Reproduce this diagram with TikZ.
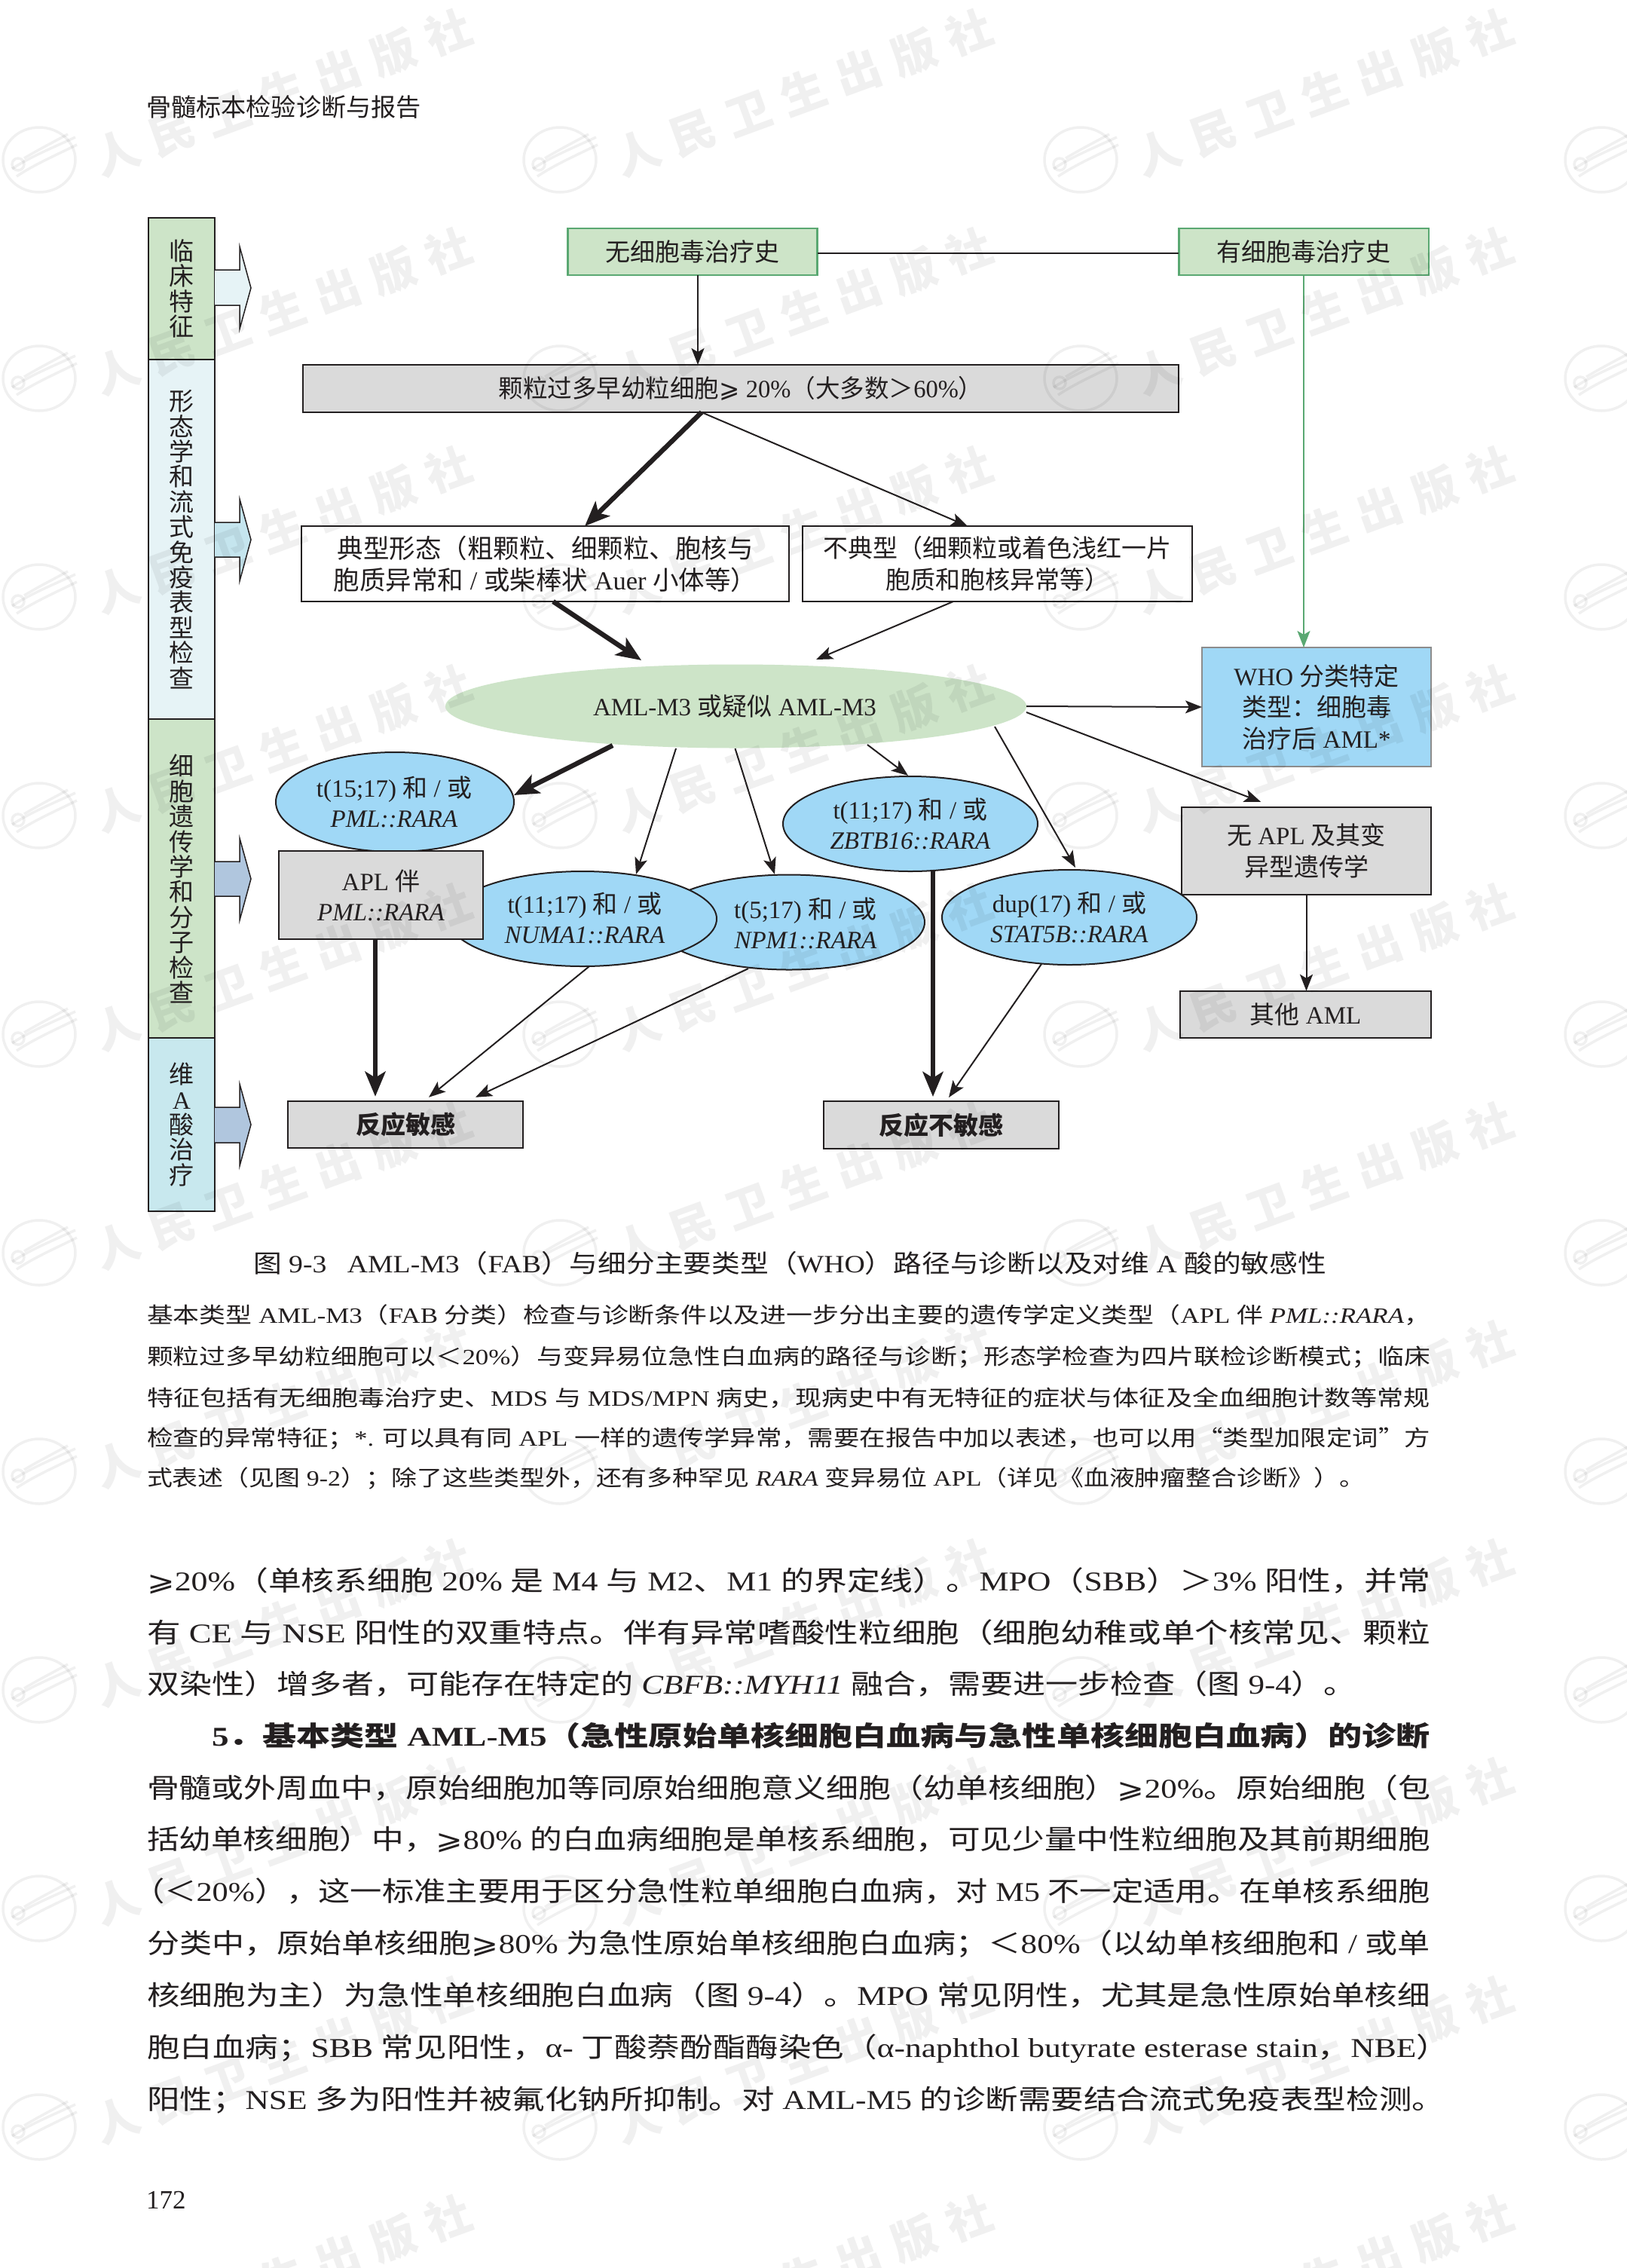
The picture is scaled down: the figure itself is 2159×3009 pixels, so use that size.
\documentclass[tikz,border=0pt]{standalone}
\usepackage{fontspec}
\usepackage{graphicx}
\usetikzlibrary{arrows.meta,shapes.geometric}
\setmainfont{Liberation Serif}
\newfontfamily\cjk{Noto Sans CJK SC}
\newfontfamily\wmfont[LetterSpace=30]{Noto Sans CJK SC}
\newfontfamily\symf{DejaVu Sans}
\newcommand\C[1]{{\cjk #1}}
\newcommand\GE{{\symf ⩾}}
\definecolor{ink}{HTML}{231F20}
\definecolor{pgreen}{HTML}{CDE4C8}
\definecolor{bgreen}{HTML}{5AA872}
\definecolor{pblue}{HTML}{A0D8F6}
\definecolor{pgrey}{HTML}{DADADA}
\definecolor{seglight}{HTML}{E6F3F6}
\definecolor{segcyan}{HTML}{C8E8EE}
\definecolor{arrA}{HTML}{E6F3F6}
\definecolor{arrB}{HTML}{C5E5EE}
\definecolor{arrC}{HTML}{B0C6DE}
\tikzset{
  x=1pt,y=-1pt,
  every node/.style={inner sep=0pt,outer sep=0pt,text=ink},
  lbl/.style={align=center,font=\fontsize{33}{40}\selectfont},
  seg/.style={draw=ink,line width=2pt,minimum width=88pt,align=center,font=\fontsize{33}{33.4}\selectfont},
  greenbox/.style={rectangle,draw=bgreen,fill=pgreen,line width=2.5pt,font=\fontsize{33}{40}\selectfont},
  greybox/.style={rectangle,draw=ink,fill=pgrey,line width=2pt,align=center,font=\fontsize{33}{42}\selectfont},
  whitebox/.style={rectangle,draw=ink,fill=white,line width=2pt,align=center,font=\fontsize{33}{42}\selectfont},
  blueell/.style={ellipse,draw=ink,fill=pblue,line width=2pt},
  thin arr/.style={draw=ink,line width=2pt,-{Stealth[length=22pt,width=17pt,inset=5pt]}},
  thick arr/.style={draw=ink,line width=6.4pt,-{Stealth[length=33pt,width=27pt,inset=8pt]}},
  blockarr/.style={draw=ink,line width=1.5pt},
  wmstroke/.style={draw=black,opacity=0.06,line width=3.5pt},
  wmlogo/.pic={
    \draw[wmstroke] (0,0) ellipse (48 and 43);
    \draw[wmstroke] (-36,12) .. controls (-12,-4) and (18,-16) .. (48,-30);
    \draw[wmstroke] (-30,22) .. controls (-6,6) and (22,-6) .. (50,-20);
    \draw[wmstroke] (-20,-2) .. controls (0,-14) and (16,-22) .. (38,-34);
    \draw[wmstroke] (-28,6) circle (8);
  }
}
\newcount\linenum
\newcommand\TL[5]{\global\advance\linenum by 1\relax
  \node[anchor=base west,font=\fontsize{#1}{#1}\selectfont] (line\the\linenum) at (#2,#3) {\resizebox{#4pt}{\height}{#5}};}
\begin{document}
\begin{tikzpicture}
\fill[white] (0,0) rectangle (2159,3009);
\useasboundingbox (0,0) rectangle (2159,3009);

% header and page number
\TL{33}{194}{154}{365}{\C{骨髓标本检验诊断与报告}}
\node[anchor=base west,font=\fontsize{35}{35}\selectfont] (pageno) at (194,2930) {172};

% left column
\node[seg,fill=pgreen,minimum height=188pt] (s1) at (241,383) {\C{临}\\\C{床}\\\C{特}\\\C{征}};
\node[seg,fill=seglight,minimum height=477pt] (s2) at (241,715.5) {\C{形}\\\C{态}\\\C{学}\\\C{和}\\\C{流}\\\C{式}\\\C{免}\\\C{疫}\\\C{表}\\\C{型}\\\C{检}\\\C{查}};
\node[seg,fill=pgreen,minimum height=423.5pt] (s3) at (241,1166) {\C{细}\\\C{胞}\\\C{遗}\\\C{传}\\\C{学}\\\C{和}\\\C{分}\\\C{子}\\\C{检}\\\C{查}};
\node[seg,fill=segcyan,minimum height=229.5pt] (s4) at (241,1492) {\C{维}\\A\\\C{酸}\\\C{治}\\\C{疗}};

% block arrows
\filldraw[blockarr,fill=arrA] (285,358) -- (318,358) -- (318,327) -- (333,382) -- (318,436.5) -- (318,405) -- (285,405);
\filldraw[blockarr,fill=arrB] (285,693) -- (318,693) -- (318,662) -- (333,716) -- (318,771) -- (318,739) -- (285,739);
\filldraw[blockarr,fill=arrC] (285,1143) -- (318,1143) -- (318,1112) -- (333,1166) -- (318,1221) -- (318,1189) -- (285,1189);
\filldraw[blockarr,fill=arrC] (285,1469) -- (318,1469) -- (318,1438) -- (333,1492) -- (318,1547) -- (318,1516) -- (285,1516);

% main nodes
\node[greenbox,minimum width=331pt,minimum height=62pt] (noCT) at (919,334) {\C{无细胞毒治疗史}};
\node[greenbox,minimum width=331.5pt,minimum height=62pt] (yesCT) at (1730,334) {\C{有细胞毒治疗史}};
\node[greybox,minimum width=1162.5pt,minimum height=63pt] (gran) at (983,515.5) {\resizebox{643pt}{\height}{\C{颗粒过多早幼粒细胞}\GE{} 20\%\C{（大多数＞}60\%\C{）}}};
\node[whitebox,minimum width=647pt,minimum height=100pt,font=\fontsize{34.5}{42}\selectfont] (typ) at (723.5,748) {\C{典型形态（粗颗粒、细颗粒、胞核与}\\\C{胞质异常和} / \C{或柴棒状} Auer \C{小体等）}};
\node[whitebox,minimum width=517pt,minimum height=100pt] (atyp) at (1323.5,748) {\C{不典型（细颗粒或着色浅红一片}\\\C{胞质和胞核异常等）}};
\node[ellipse,fill=pgreen,minimum width=771pt,minimum height=111pt] (aml) at (976.5,937) {};
\node[lbl] (amlt) at (975,937) {AML-M3 \C{或疑似} AML-M3};
\node[rectangle,draw=black!45,fill=pblue,line width=2.5pt,minimum width=304pt,minimum height=158pt,align=center,font=\fontsize{33}{41.5}\selectfont] (who) at (1747,938) {WHO \C{分类特定}\\\C{类型：细胞毒}\\\C{治疗后} AML*};

% gene ellipses
\node[blueell,minimum width=316pt,minimum height=132pt] (t15) at (524,1064) {};
\node[lbl] (t15t) at (523,1064) {t(15;17) \C{和} / \C{或}\\\textit{PML::RARA}};
\node[blueell,minimum width=360pt,minimum height=126pt] (npm) at (1047,1223.5) {};
\node[lbl] (npmt) at (1069,1225) {t(5;17) \C{和} / \C{或}\\\textit{NPM1::RARA}};
\node[blueell,minimum width=356pt,minimum height=126pt] (numa) at (773,1219) {};
\node[lbl] (numat) at (776,1218) {t(11;17) \C{和} / \C{或}\\\textit{NUMA1::RARA}};
\node[blueell,minimum width=338pt,minimum height=126pt] (zbtb) at (1208,1093) {};
\node[lbl] (zbtbt) at (1208,1093) {t(11;17) \C{和} / \C{或}\\\textit{ZBTB16::RARA}};
\node[blueell,minimum width=338pt,minimum height=126pt] (stat) at (1419,1217) {};
\node[lbl] (statt) at (1419,1217) {dup(17) \C{和} / \C{或}\\\textit{STAT5B::RARA}};

% grey boxes
\node[greybox,minimum width=271pt,minimum height=117pt,font=\fontsize{33}{40}\selectfont] (aplb) at (505.5,1187.5) {APL \C{伴}\\\textit{PML::RARA}};
\node[greybox,minimum width=331pt,minimum height=116.5pt] (noapl) at (1733.5,1129) {\C{无} APL \C{及其变}\\\C{异型遗传学}};
\node[greybox,minimum width=333pt,minimum height=62.5pt] (other) at (1732.5,1346) {\C{其他} AML};
\node[greybox,minimum width=312pt,minimum height=62.5pt] (sens) at (538,1492) {\bfseries\C{反应敏感}};
\node[greybox,minimum width=312pt,minimum height=63pt] (insens) at (1249,1492.5) {\bfseries\C{反应不敏感}};

% connectors
\draw[draw=ink,line width=2pt] ([shift={(0,2)}]noCT.east) -- ([shift={(0,2)}]yesCT.west);
\draw[thin arr] ([xshift=7pt]noCT.south) -- ([xshift=-57pt]gran.north);
\draw[thick arr] ([xshift=-52pt]gran.south) -- ([xshift=52.5pt]typ.north);
\draw[thin arr] ([xshift=-52pt]gran.south) -- ([xshift=-39.5pt]atyp.north);
\draw[thick arr] ([xshift=10.5pt]typ.south) -- ([shift={(-125.5,-61)}]aml.center);
\draw[thin arr] ([xshift=-58.5pt]atyp.south) -- ([shift={(106.5,-62)}]aml.center);
\draw[thin arr] (aml.east) -- (who.west);
\draw[thin arr,draw=bgreen,fill=bgreen] (yesCT.south) -- ([xshift=-17pt]who.north);
\draw[thin arr] ([shift={(385.5,8)}]aml.center) -- ([shift={(-60.5,-7)}]noapl.north);
\draw[thin arr] ([shift={(343.5,27)}]aml.center) -- ([shift={(8,-3)}]stat.north);
\draw[thin arr] ([shift={(174.5,51)}]aml.center) -- ([shift={(-3,-1)}]zbtb.north);
\draw[thick arr] ([shift={(-163.5,52)}]aml.center) -- ([shift={(158,-9)}]t15.center);
\draw[thin arr] ([shift={(-79.5,56)}]aml.center) -- ([shift={(71,-59)}]numa.center);
\draw[thin arr] ([shift={(-1,56)}]aml.center) -- ([shift={(-19,-63.5)}]npm.center);
\draw[thick arr] ([xshift=-7.5pt]aplb.south) -- ([shift={(-40,-6)}]sens.north);
\draw[thin arr] ([shift={(9,63)}]numa.center) -- ([shift={(31,-5)}]sens.north);
\draw[thin arr] ([shift={(-54,61.5)}]npm.center) -- ([shift={(93,-5)}]sens.north);
\draw[thick arr] ([xshift=30pt]zbtb.south) -- ([shift={(-11,-6)}]insens.north);
\draw[thin arr] ([shift={(-37,62)}]stat.center) -- ([shift={(10,-5)}]insens.north);
\draw[thin arr] (noapl.south) -- (noapl.south |- other.north);

% caption
\TL{33}{336}{1688}{1424}{\C{图} 9-3\hspace{24pt}AML-M3\C{（}FAB\C{）与细分主要类型（}WHO\C{）路径与诊断以及对维} A \C{酸的敏感性}}
\TL{29}{195}{1755}{1703}{\C{基本类型} AML-M3\C{（}FAB \C{分类）检查与诊断条件以及进一步分出主要的遗传学定义类型（}APL \C{伴} \textit{PML::RARA}\C{，}}
\TL{29}{195}{1810}{1703}{\C{颗粒过多早幼粒细胞可以＜}20\%\C{）与变异易位急性白血病的路径与诊断；形态学检查为四片联检诊断模式；临床}}
\TL{29}{195}{1865}{1703}{\C{特征包括有无细胞毒治疗史、}MDS \C{与} MDS/MPN \C{病史，现病史中有无特征的症状与体征及全血细胞计数等常规}}
\TL{29}{195}{1918}{1703}{\C{检查的异常特征；}*. \C{可以具有同} APL \C{一样的遗传学异常，需要在报告中加以表述，也可以用“类型加限定词”方}}
\TL{29}{195}{1971}{1616}{\C{式表述（见图} 9-2\C{）；除了这些类型外，还有多种罕见} \textit{RARA} \C{变异易位} APL\C{（详见《血液肿瘤整合诊断》）。}}

% body text
\TL{36}{195}{2110}{1703}{\GE 20\%\C{（单核系细胞} 20\% \C{是} M4 \C{与} M2\C{、}M1 \C{的界定线）。}MPO\C{（}SBB\C{）＞}3\% \C{阳性，并常}}
\TL{36}{195}{2179}{1703}{\C{有} CE \C{与} NSE \C{阳性的双重特点。伴有异常嗜酸性粒细胞（细胞幼稚或单个核常见、颗粒}}
\TL{36}{195}{2247}{1605}{\C{双染性）增多者，可能存在特定的} \textit{CBFB::MYH11} \C{融合，需要进一步检查（图} 9-4\C{）。}}
\TL{36}{281}{2316}{1617}{\bfseries 5\C{．基本类型} AML-M5\C{（急性原始单核细胞白血病与急性单核细胞白血病）的诊断}}
\TL{36}{195}{2385}{1703}{\C{骨髓或外周血中，原始细胞加等同原始细胞意义细胞（幼单核细胞）}\GE 20\%\C{。原始细胞（包}}
\TL{36}{195}{2453}{1703}{\C{括幼单核细胞）中，}\GE 80\% \C{的白血病细胞是单核系细胞，可见少量中性粒细胞及其前期细胞}}
\TL{36}{176}{2522}{1722}{\C{（＜}20\%\C{），这一标准主要用于区分急性粒单细胞白血病，对} M5 \C{不一定适用。在单核系细胞}}
\TL{36}{195}{2591}{1703}{\C{分类中，原始单核细胞}\GE 80\% \C{为急性原始单核细胞白血病；＜}80\%\C{（以幼单核细胞和} / \C{或单}}
\TL{36}{195}{2660}{1703}{\C{核细胞为主）为急性单核细胞白血病（图} 9-4\C{）。}MPO \C{常见阴性，尤其是急性原始单核细}}
\TL{36}{195}{2729}{1728}{\C{胞白血病；}SBB \C{常见阳性，}α- \C{丁酸萘酚酯酶染色（}α-naphthol butyrate esterase stain\C{，}NBE\C{）}}
\TL{36}{195}{2798}{1722}{\C{阳性；}NSE \C{多为阳性并被氟化钠所抑制。对} AML-M5 \C{的诊断需要结合流式免疫表型检测。}}

% watermark
\begin{scope}
\clip (0,0) rectangle (2159,3009);
\foreach \r in {0,...,9}{
  \foreach \c in {0,...,3}{
    \pgfmathsetmacro\wx{52+691*\c}
    \pgfmathsetmacro\wy{212+290*\r}
    \pic at (\wx,\wy) {wmlogo};
  }
}
\foreach \r in {0,...,10}{
  \foreach \c in {0,...,2}{
    \pgfmathsetmacro\wx{52+691*\c}
    \pgfmathsetmacro\wy{212+290*\r}
    \node[text=black,text opacity=0.06,rotate=20,font=\fontsize{60}{60}\selectfont] (wm\r\c) at ({\wx+323},{\wy-89}) {\wmfont\bfseries 人民卫生出版社};
  }
}
\end{scope}
\end{tikzpicture}
\end{document}
